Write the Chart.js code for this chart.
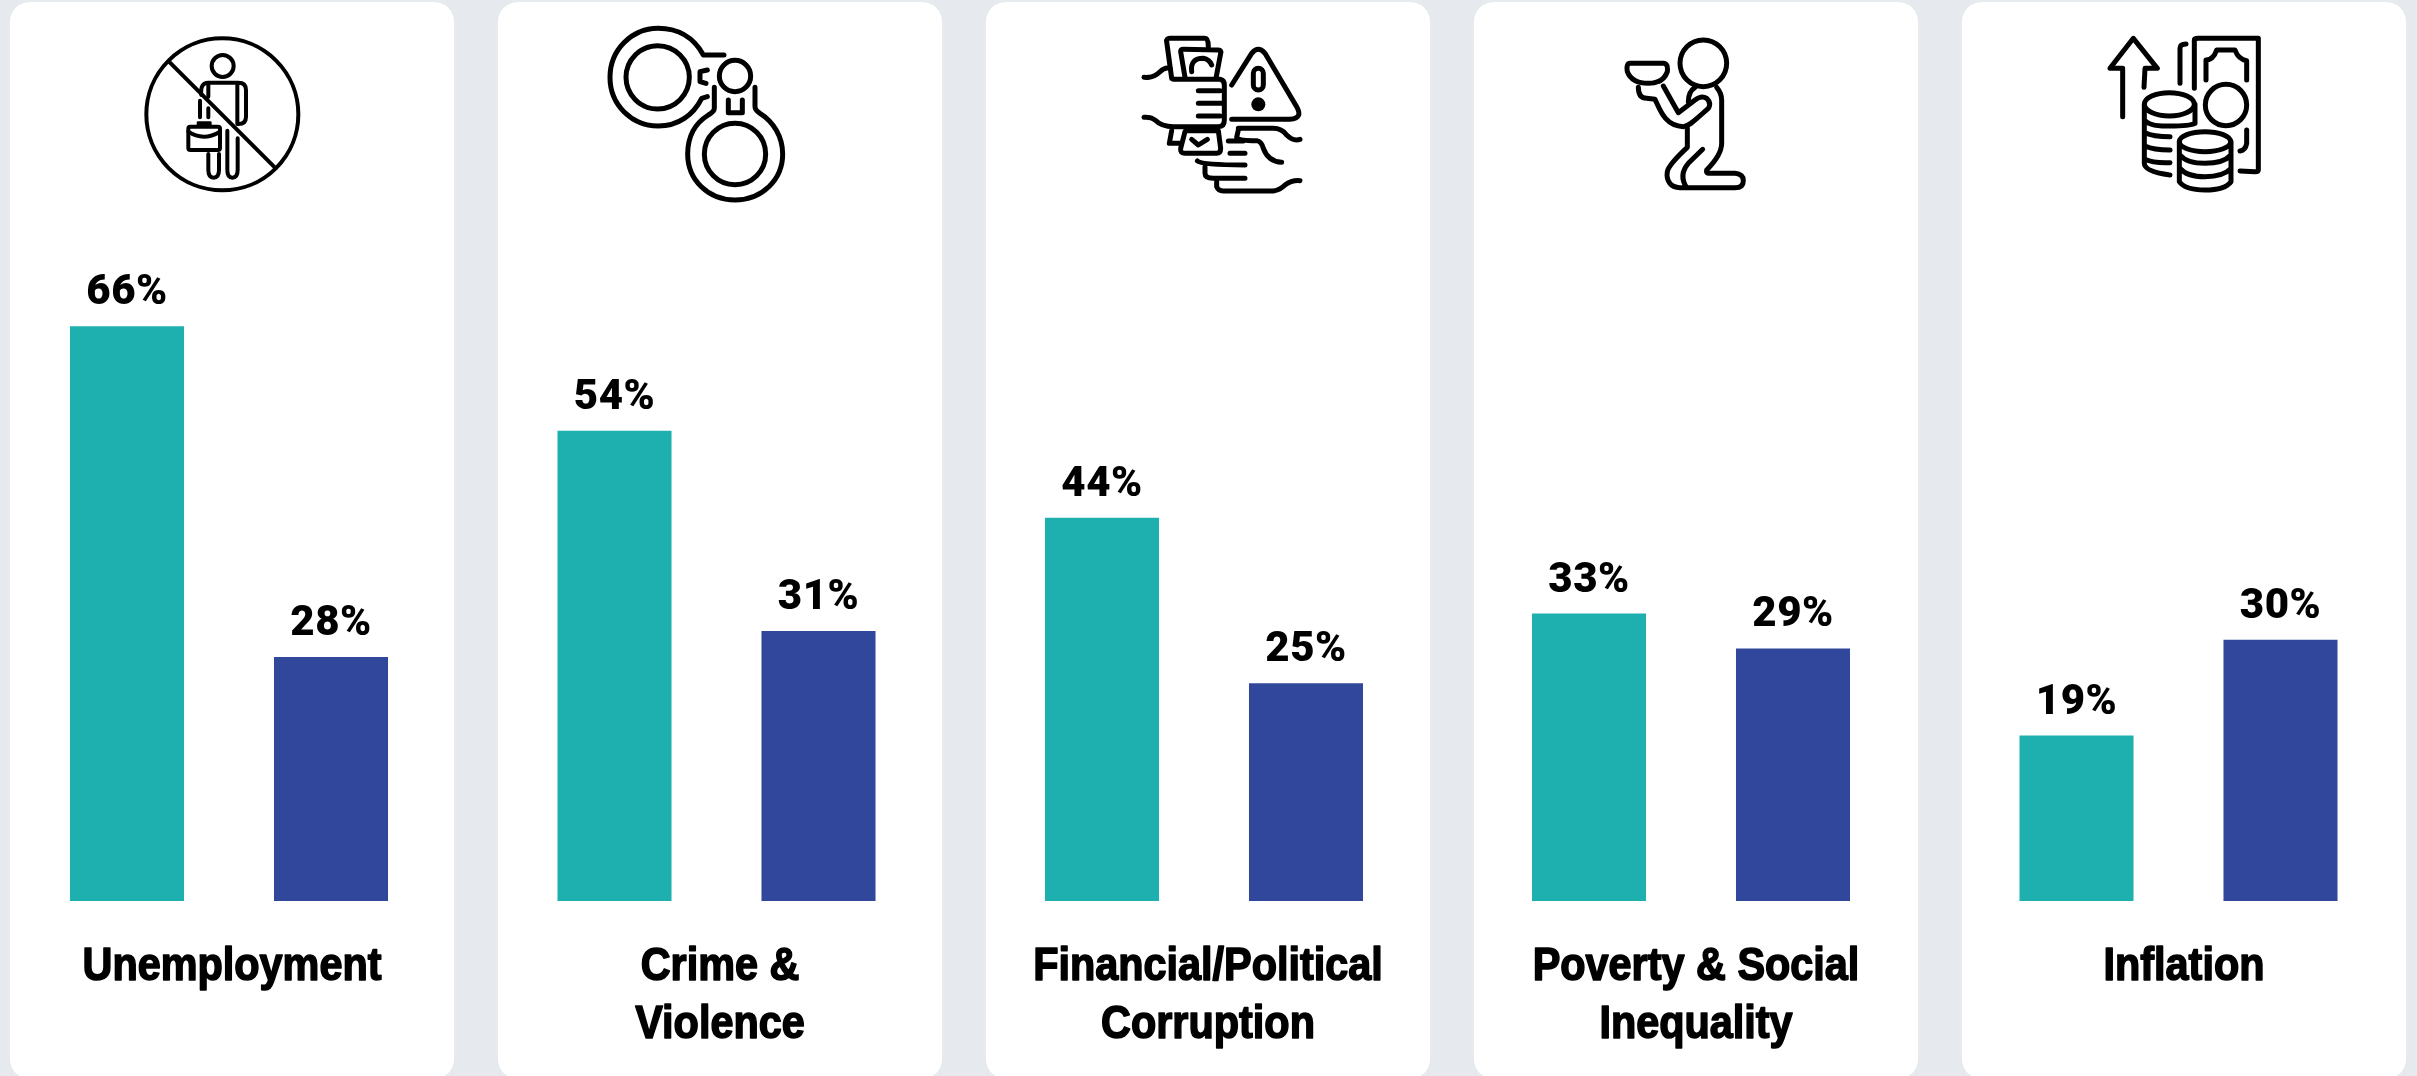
<!DOCTYPE html>
<html><head><meta charset="utf-8">
<script src="https://cdn.jsdelivr.net/npm/chart.js@4"></script>
<style>
html,body{margin:0;padding:0;width:2417px;height:1076px;overflow:hidden;background:#e6e9ee}
.card{position:absolute;top:2px;width:444px;height:1077px;background:#fff;border-radius:20px;overflow:hidden}
canvas{position:absolute;left:0;top:0}
svg.icons{position:absolute;left:0;top:0;pointer-events:none}
svg.icons *{fill:none;stroke:#000;stroke-width:12;stroke-linecap:round;stroke-linejoin:round}
svg.icons .f{fill:#000;stroke:none}
svg.icons .t *{stroke-width:15}
</style></head><body>
<div id="cards"></div>
<svg class="icons" width="2417" height="1076" viewBox="0 0 2417 1076">
<g transform="scale(.33333)">
 <circle cx="667" cy="343" r="228"/><path d="M507 185L825 503"/><circle cx="668" cy="198" r="33"/>
 <path d="M604 285Q600 248 625 248L715 248Q738 248 738 270L738 350Q738 372 715 372M712 250L712 372M625 250L625 290"/>
 <path d="M682 392L682 510Q682 533 697 533Q713 533 713 510L713 415M625 462L625 510Q625 533 641 533Q657 533 657 510L657 462M600 302L600 352M625 325L625 352"/>
 <rect x="565" y="380" width="95" height="70" rx="6"/><path d="M565 395Q610 425 660 395"/><rect class="f" x="590" y="364" width="45" height="18" rx="4"/>
</g>
<g class="t" transform="translate(560 0) scale(.33333)">
 <path d="M492 165L430 165C400 110 350 85 295 85C215 85 150 150 150 232C150 315 215 378 295 378C355 378 400 345 425 295L442 290"/>
 <circle cx="293" cy="232" r="95"/><circle cx="525" cy="228" r="47"/><circle cx="525" cy="462" r="92"/>
 <path d="M463 262L463 325Q463 335 445 345C405 370 383 410 383 462C383 540 445 600 525 600C605 600 668 540 668 462C668 410 640 365 600 340Q585 330 585 320L585 262"/>
 <path d="M505 300L505 338L547 338L547 300M442 210L420 215L420 245L438 250"/>
</g>
<g class="t" transform="translate(1090 0) scale(.33333)">
 <path d="M245 235L230 125Q228 115 240 115L345 115Q355 115 355 140M285 232L272 155Q272 148 280 148L385 150Q395 150 392 160L378 235M305 215Q300 175 340 175Q358 178 365 195"/>
 <path d="M162 232Q190 235 210 215Q225 200 240 205M250 238L390 238Q403 240 403 255L403 360Q403 380 385 380L250 380Q215 380 195 360Q180 350 162 352M325 272L390 272M325 310L395 310M325 348L390 348"/>
 <path d="M245 392L238 430L272 430M290 392L385 392L392 445Q392 460 380 460L285 460Q270 460 272 445L285 395M305 418L325 435L352 418"/>
 <path d="M425 255L485 160Q505 135 525 160L620 320Q640 355 600 358L425 358"/>
 <rect x="490" y="205" width="30" height="65" rx="15"/><circle class="f" cx="505" cy="313" r="21"/>
 <path d="M445 385L550 385Q575 385 590 405Q610 425 630 418M445 390L440 412Q445 422 500 422Q515 425 520 445Q535 485 575 487M415 423L460 423M420 460L465 460"/>
 <path d="M322 483Q335 495 465 495M345 500L345 520Q345 535 370 535L465 535M380 545L380 560Q385 573 400 573L550 573Q570 570 585 555Q605 540 630 542"/>
</g>
<g class="t" transform="translate(1580 0) scale(.33333)">
 <circle cx="370" cy="190" r="70"/>
 <path d="M150 190L250 190Q265 190 262 215Q250 250 205 250Q155 250 142 215Q138 190 150 190Z"/>
 <path d="M175 262Q175 295 200 295L225 298C240 330 255 378 310 380C330 378 350 355 385 325Q395 310 380 295Q365 285 345 300L295 338L250 258"/>
 <path d="M410 262Q425 280 425 300L425 430Q425 465 380 510Q378 520 385 520L465 520Q490 522 490 542Q490 563 465 563L300 563C270 563 258 540 262 515Q265 495 322 442L322 385M325 305Q325 275 345 262M368 448L325 490Q295 525 320 563"/>
</g>
<g class="t" transform="translate(2060 0) scale(.33333)">
 <path d="M188 350L188 205L150 205L220 115L292 205L255 205L252 262M403 265L403 120Q403 115 415 115L595 115L595 510Q595 515 585 515L540 513M360 250L360 145Q360 132 378 132M438 240L438 180Q460 180 470 150L525 150Q535 178 560 182L560 240M560 390L560 430Q557 450 540 453"/>
 <circle cx="498" cy="315" r="62"/>
 <ellipse cx="328" cy="313" rx="75" ry="35"/>
 <path d="M253 313L253 490Q253 515 330 525M253 358Q265 380 330 378Q390 378 405 370M405 313L405 370M255 398Q280 410 330 410M255 438Q280 450 330 450M255 478Q280 490 330 488"/>
 <ellipse style="fill:#fff" cx="435" cy="425" rx="77" ry="30"/>
 <path d="M358 425L358 545Q375 570 435 570Q495 570 513 545L513 425M360 465Q380 490 435 490Q490 490 513 465M360 505Q380 530 435 530Q490 530 513 505"/>
</g>
</svg>
<script>
const categories = [
  ["Unemployment"],
  ["Crime &", "Violence"],
  ["Financial/Political", "Corruption"],
  ["Poverty & Social", "Inequality"],
  ["Inflation"]
];
const tealValues = [66, 54, 44, 33, 19];
const blueValues = [28, 31, 25, 29, 30];
const cardLefts = [10, 498, 986, 1474, 1962];
const plotLefts = [15, 14.5, 14, 13, 12.5];

const tealColor = "#1eb0ae";
const blueColor = "#30479b";

const valueLabels = {
  id: "valueLabels",
  afterDatasetsDraw(chart) {
    const ctx = chart.ctx;
    ctx.save();
    ctx.font = "900 42px Roboto";
    ctx.letterSpacing = "0.5px";
    ctx.fillStyle = "#000";
    ctx.textAlign = "center";
    ctx.textBaseline = "alphabetic";
    chart.data.datasets.forEach((ds, i) => {
      chart.getDatasetMeta(i).data.forEach((bar, j) => {
        ctx.fillText(ds.data[j] + "%", bar.x, bar.y - 22);
      });
    });
    ctx.restore();
  }
};

// Condensed bold category labels: no narrow face is installed, so the
// label is squeezed horizontally about the middle of the card.
const categoryLabels = {
  id: "categoryLabels",
  afterDraw(chart) {
    const ctx = chart.ctx;
    const lines = chart.data.labels[0];
    ctx.save();
    ctx.translate(chart.width / 2, 0);
    ctx.scale(0.9, 1);
    ctx.font = "bold 46px 'Liberation Sans'";
    ctx.fillStyle = "#000";
    ctx.strokeStyle = "#000";
    ctx.lineWidth = 1.6;
    ctx.lineJoin = "round";
    ctx.textAlign = "center";
    ctx.textBaseline = "alphabetic";
    lines.forEach((line, k) => {
      const y = chart.chartArea.bottom + 79 + k * 58;
      ctx.fillText(line, 0, y);
      ctx.strokeText(line, 0, y);
    });
    ctx.restore();
  }
};

const host = document.getElementById("cards");
categories.forEach((cat, i) => {
  const card = document.createElement("div");
  card.className = "card";
  card.style.left = cardLefts[i] + "px";
  const cv = document.createElement("canvas");
  cv.width = 444; cv.height = 1074;
  cv.style.width = "444px"; cv.style.height = "1074px";
  card.appendChild(cv);
  host.appendChild(card);
  new Chart(cv, {
    type: "bar",
    data: {
      labels: [cat],
      datasets: [
        { data: [tealValues[i]], backgroundColor: tealColor },
        { data: [blueValues[i]], backgroundColor: blueColor }
      ]
    },
    plugins: [valueLabels, categoryLabels],
    options: {
      responsive: false,
      animation: false,
      devicePixelRatio: 1,
      categoryPercentage: 1,
      barPercentage: 0.559,
      layout: { padding: { left: plotLefts[i], right: 444 - plotLefts[i] - 408, top: 28, bottom: 0 } },
      plugins: { legend: { display: false }, tooltip: { enabled: false }, title: { display: false } },
      scales: {
        y: { display: false, min: 0, max: 100 },
        x: {
          grid: { display: false },
          border: { display: false },
          afterFit(scale) { scale.height = 175; },
          ticks: { display: false }
        }
      }
    }
  });
});
</script>
</body></html>
